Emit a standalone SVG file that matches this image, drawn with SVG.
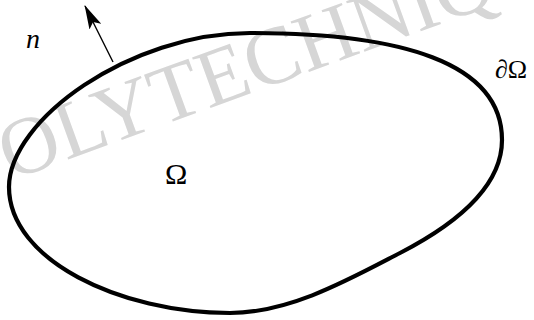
<svg xmlns="http://www.w3.org/2000/svg" width="534" height="320" viewBox="0 0 534 320">
<style>
.wm{font-family:"Liberation Serif","Times New Roman",serif;font-size:82px;fill:#d6d6d6}
.lbl{font-family:"Liberation Serif","Times New Roman",serif;fill:#000}
.curve{fill:none;stroke:#000;stroke-width:4.2}
.arr{stroke:#000;stroke-width:1.4;fill:none}
</style>
<defs>
<marker id="ah" viewBox="0 0 24 13" refX="23" refY="6.5" markerWidth="24" markerHeight="13" markerUnits="userSpaceOnUse" orient="auto">
<path d="M0,0 L24,6.5 L0,13 L5,6.5 Z" fill="#000"/>
</marker>
</defs>
<text class="wm" transform="translate(-32.4,196.2) rotate(-20)">POLYTECHNIQUE</text>
<g id="domain">
<path class="curve" d="M250,33 C400,33 502,62 502,140 C502,185 460,222 400,253 C350,279 290,313 230,313 C120,313 9,260 9,187 C9,120 130,33 250,33 Z"/>
</g>
<g id="connectors">
<line class="arr" x1="113" y1="62" x2="85" y2="6" marker-end="url(#ah)"/>
</g>
<g id="label-n"><text class="lbl" x="26" y="48" font-size="28" font-style="italic">n</text></g>
<g id="label-omega"><text class="lbl" x="165" y="184" font-size="30">Ω</text></g>
<g id="label-boundary"><text class="lbl" x="495" y="78" font-size="26">∂Ω</text></g>
</svg>
